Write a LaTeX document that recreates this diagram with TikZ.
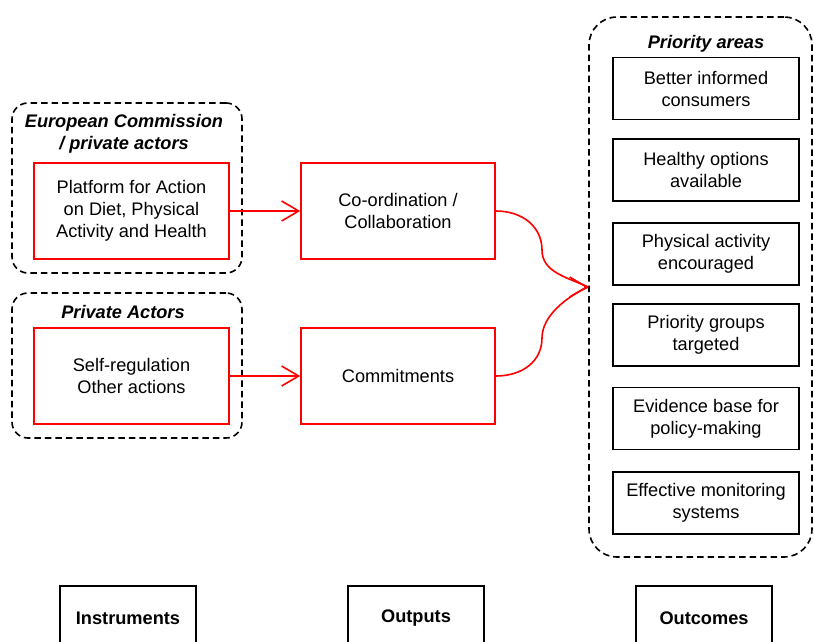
\documentclass[tikz,border=0pt]{standalone}
\usepackage{fontspec}
\setmainfont{Liberation Sans}
\usetikzlibrary{arrows.meta}
\definecolor{redline}{RGB}{255,0,0}
\tikzset{
  txt/.style={font=\fontsize{18.2pt}{22pt}\selectfont, align=center},
  group/.style={draw=black, dashed, dash pattern=on 6.5pt off 4pt, line width=1.6pt, rounded corners=16pt, inner sep=0pt},
  redbox/.style={txt, draw=redline, line width=1.6pt, inner sep=0pt},
  blackbox/.style={txt, draw=black, line width=1.6pt, inner sep=0pt, minimum width=186pt, minimum height=62pt},
  title/.style={txt, font=\fontsize{18.2pt}{22pt}\selectfont\bfseries\itshape},
  labelbox/.style={txt, font=\fontsize{18.2pt}{22pt}\selectfont\bfseries, draw=black, line width=1.6pt, inner sep=0pt, minimum width=136pt, minimum height=64pt},
  redline/.style={draw=redline, line width=1.6pt},
  redarrow/.style={redline, -{Straight Barb[length=17pt,width=20pt,line width=1.6pt]}}
}
\begin{document}
\begin{tikzpicture}[x=1pt,y=-1pt]
\clip (0,0) rectangle (814,642);
\fill[white] (0,0) rectangle (814,642);
% left groups
\node[group, minimum width=230pt, minimum height=170pt] (ec) at (127,188) {};
\node[title] (ectitle) at (124,133.5) {European Commission\\/ private actors};
\node[redbox, minimum width=195pt, minimum height=96pt] (plat) at (131.5,211) {Platform for Action\\on Diet, Physical\\Activity and Health};
\node[group, minimum width=230pt, minimum height=145pt] (pa) at (127,365.5) {};
\node[title] (patitle) at (123,312) {Private Actors};
\node[redbox, minimum width=195pt, minimum height=96pt] (self) at (131.5,376) {Self-regulation\\Other actions};
% outputs
\node[redbox, minimum width=194pt, minimum height=96pt] (coord) at (398,211) {Co-ordination /\\Collaboration};
\node[redbox, minimum width=194pt, minimum height=96pt] (comm) at (398,376) {Commitments};
% outcomes
\node[group, rounded corners=28pt, minimum width=223pt, minimum height=540pt] (pr) at (700.5,287) {};
\node[title] (prtitle) at (706,44) {Priority areas};
\node[blackbox] (b1) at (706,88.5) {Better informed\\consumers};
\node[blackbox] (b2) at (706,170) {Healthy options\\available};
\node[blackbox] (b3) at (706,254) {Physical activity\\encouraged};
\node[blackbox] (b4) at (706,335) {Priority groups\\targeted};
\node[blackbox] (b5) at (706,418.5) {Evidence base for\\policy-making};
\node[blackbox] (b6) at (706,503) {Effective monitoring\\systems};
% bottom labels
\node[labelbox] (inst) at (128,618) {Instruments};
\node[labelbox] (outp) at (416,618) {Outputs};
\node[labelbox] (outc) at (704,618) {Outcomes};
% connectors
\draw[redarrow] (plat.east) -- (coord.west);
\draw[redarrow] (self.east) -- (comm.west);
\coordinate (m1) at (542,250);
\coordinate (m2) at (542,338);
\coordinate (tipstart) at (584,287);
\draw[redline] (coord.east) .. controls +(27,0) and +(0,-23) .. (m1)
  .. controls +(0,22) and +(-22,-10) .. (pr.west);
\draw[redline] (comm.east) .. controls +(27,0) and +(0,23) .. (m2)
  .. controls +(0,-22) and +(-22,10) .. (pr.west);
\draw[redarrow] (tipstart) -- (pr.west);
\end{tikzpicture}
\end{document}
